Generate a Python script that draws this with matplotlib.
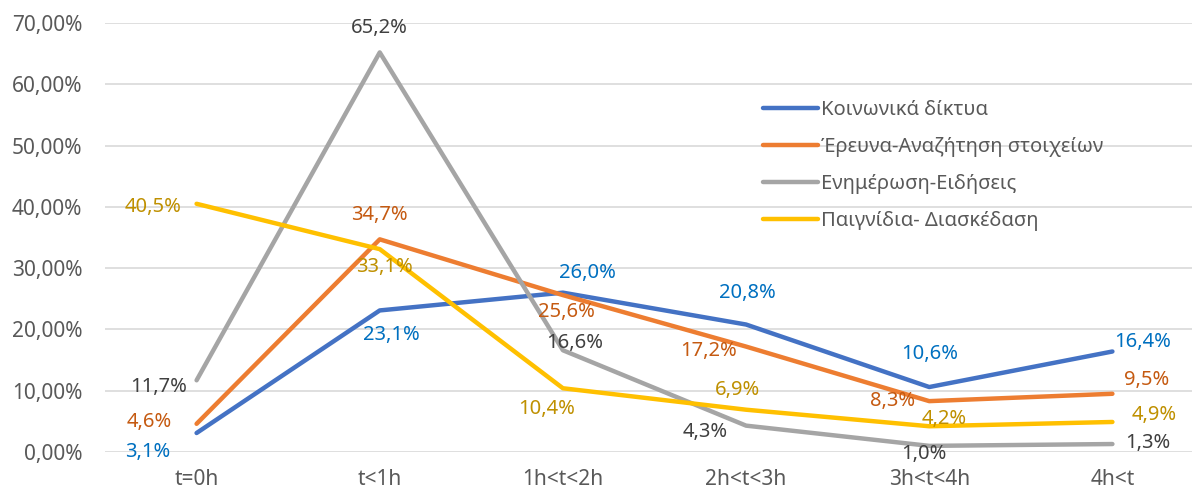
import matplotlib
matplotlib.use("Agg")
import matplotlib.pyplot as plt
from matplotlib.ticker import FuncFormatter

plt.rcParams['font.family'] = ['Noto Sans', 'DejaVu Sans']

categories = ["t=0h", "t<1h", "1h<t<2h", "2h<t<3h", "3h<t<4h", "4h<t"]
series_names = ["Κοινωνικά δίκτυα", "Έρευνα-Αναζήτηση στοιχείων",
                "Ενημέρωση-Ειδήσεις", "Παιγνίδια- Διασκέδαση"]
social = [3.1, 23.1, 26.0, 20.8, 10.6, 16.4]
research = [4.6, 34.7, 25.6, 17.2, 8.3, 9.5]
news = [11.7, 65.2, 16.6, 4.3, 1.0, 1.3]
games = [40.5, 33.1, 10.4, 6.9, 4.2, 4.9]

line_colors = ["#4472C4", "#ED7D31", "#A5A5A5", "#FFC000"]
label_colors = ["#0070C0", "#C55A11", "#404040", "#BF9000"]
# label offsets in pixels (dx, dy)
offsets = [
    [(-49, -19), (12, -25), (25, 20), (1, 32), (0, 33), (30, 9)],
    [(-47, 2), (0, 24), (4, -17), (-38, -4), (-37, 0), (34, 14)],
    [(-38, -7), (0, 24), (12, 7), (-41, -6), (-5, -8), (35, 1)],
    [(-44, -3), (5, -18), (-16, -21), (-9, 20), (15, 7), (42, 7)],
]

fig = plt.figure(figsize=(11.92, 4.9), dpi=100)
ax = fig.add_axes([105 / 1192, 38 / 490, 1099 / 1192, 429 / 490])

x = list(range(len(categories)))
all_series = [social, research, news, games]
lines = []
for vals, c in zip(all_series, line_colors):
    ln, = ax.plot(x, [v / 100 for v in vals], color=c, lw=3.2,
                  solid_capstyle='round', solid_joinstyle='round', zorder=3)
    lines.append(ln)

for vals, lc, offs in zip(all_series, label_colors, offsets):
    for xi, v, (dx, dy) in zip(x, vals, offs):
        ax.annotate(f"{v:.1f}%".replace('.', ','), (xi, v / 100),
                    xytext=(dx, dy), textcoords='offset pixels',
                    ha='center', va='center', fontsize=14.5, color=lc, zorder=4)

ax.set_xlim(-0.5, 5.5)
ax.set_ylim(0, 0.70)
ax.set_yticks([i / 100 for i in range(0, 71, 10)])
ax.yaxis.set_major_formatter(FuncFormatter(lambda v, p: f"{v*100:.2f}%".replace('.', ',')))
ax.set_xticks(x)
ax.set_xticklabels(categories)
ax.grid(axis='y', color='#D9D9D9', lw=1.2, zorder=0)
for s in ax.spines.values():
    s.set_visible(False)
ax.tick_params(axis='both', length=0, labelsize=15, colors='#595959')
ax.tick_params(axis='y', pad=16.5)
ax.tick_params(axis='x', pad=12)

leg = fig.legend(lines, series_names, loc='upper left',
                 bbox_to_anchor=(745 / 1192, 1 - 82 / 490), frameon=False,
                 fontsize=14.5, handlelength=2.7, handletextpad=0.15,
                 labelspacing=0.85, labelcolor='#595959')

fig.savefig("out.png", dpi=100)
